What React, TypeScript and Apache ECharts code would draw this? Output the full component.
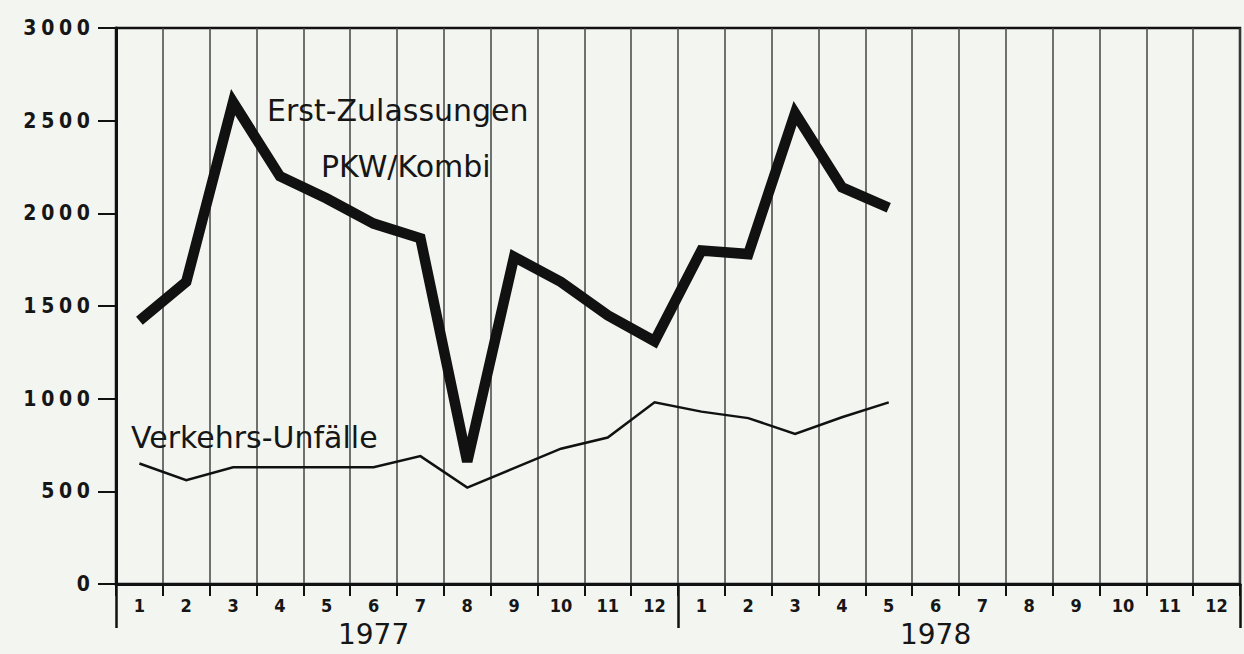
import React, { useEffect, useRef } from "react";
import * as echarts from "echarts";

const months = ["1","2","3","4","5","6","7","8","9","10","11","12","1","2","3","4","5","6","7","8","9","10","11","12"];
const years = ["1977", "1978"];
const yearAtMonthIndex = [5, 17];
const zulassungen = [1420, 1630, 2600, 2200, 2080, 1945, 1865, 660, 1765, 1630, 1450, 1310, 1800, 1780, 2540, 2140, 2030];
const unfaelle = [650, 560, 630, 630, 630, 630, 690, 520, 625, 730, 790, 980, 930, 895, 810, 900, 980];
const seriesNames = ["Erst-Zulassungen PKW/Kombi", "Verkehrs-Unfälle"];
const yMin = 0;
const yMax = 3000;
const yStep = 500;

const BG = "#f3f5f0";
const INK = "#111111";
const TXT = "#161616";
const COND = "DejaVu Sans Condensed, DejaVu Sans";

export default function App() {
  const ref = useRef<HTMLDivElement>(null);
  useEffect(() => {
    document.body.style.background = BG;
    const chart = echarts.init(ref.current!, null, { renderer: "svg" });
    chart.setOption({
      animation: false,
      backgroundColor: BG,
      grid: {
        left: 116, right: 4, top: 28, bottom: 70,
        show: true, borderColor: INK, borderWidth: 2.5, backgroundColor: "transparent",
      },
      xAxis: [
        {
          type: "category",
          data: months,
          boundaryGap: true,
          axisLine: { show: true, lineStyle: { color: INK, width: 3 } },
          axisTick: { show: true, alignWithLabel: false, interval: 0, length: 12, lineStyle: { color: INK, width: 2 } },
          splitLine: { show: true, interval: 0, lineStyle: { color: "#444444", width: 1.5 } },
          axisLabel: {
            interval: 0,
            margin: 10,
            color: TXT,
            fontFamily: COND,
            fontWeight: "bold",
            fontSize: 18,
            formatter: (v: string, i: number) => {
              const yi = yearAtMonthIndex.indexOf(i);
              return yi >= 0 ? `{m|${v}}\n{y|${years[yi]}}` : `{m|${v}}`;
            },
            rich: {
              m: { fontFamily: COND, fontWeight: "bold", fontSize: 18, color: TXT, lineHeight: 22 },
              y: { fontFamily: "DejaVu Sans", fontWeight: "normal", fontSize: 28, color: TXT, lineHeight: 36 },
            },
          },
        },
        {
          type: "category",
          data: years,
          position: "bottom",
          offset: 0,
          boundaryGap: true,
          axisLine: { show: false },
          axisTick: { show: true, alignWithLabel: false, length: 44, lineStyle: { color: INK, width: 2.5 } },
          axisLabel: { show: false },
          splitLine: { show: false },
        },
      ],
      yAxis: {
        type: "value",
        min: yMin,
        max: yMax,
        interval: yStep,
        axisLine: { show: true, lineStyle: { color: INK, width: 3 } },
        axisTick: { show: true, length: 18, lineStyle: { color: INK, width: 2 } },
        splitLine: { show: false },
        axisLabel: {
          margin: 26,
          color: TXT,
          fontFamily: COND,
          fontWeight: "bold",
          fontSize: 21,
          formatter: (v: number) => String(v).split("").join("\u2005"),
        },
      },
      series: [
        {
          name: seriesNames[0],
          type: "line",
          data: zulassungen,
          showSymbol: false,
          symbol: "none",
          lineStyle: { color: INK, width: 10.5, join: "miter", miterLimit: 10, cap: "butt" },
          z: 3,
        },
        {
          name: seriesNames[1],
          type: "line",
          data: unfaelle,
          showSymbol: false,
          symbol: "none",
          lineStyle: { color: INK, width: 2.5, join: "miter" },
          z: 3,
        },
      ],
      graphic: [
        { type: "text", left: 267, top: 95, z: 10, style: { text: "Erst-Zulassungen", fill: TXT, font: "30px 'DejaVu Sans'" } },
        { type: "text", left: 321, top: 151, z: 10, style: { text: "PKW/Kombi", fill: TXT, font: "30px 'DejaVu Sans'" } },
        { type: "text", left: 131, top: 422, z: 10, style: { text: "Verkehrs-Unfälle", fill: TXT, font: "30px 'DejaVu Sans'" } },
      ],
    });
    return () => chart.dispose();
  }, []);
  return (
    <div
      ref={ref}
      style={{ position: "absolute", left: 0, top: 0, width: 1244, height: 654, background: BG }}
    />
  );
}
